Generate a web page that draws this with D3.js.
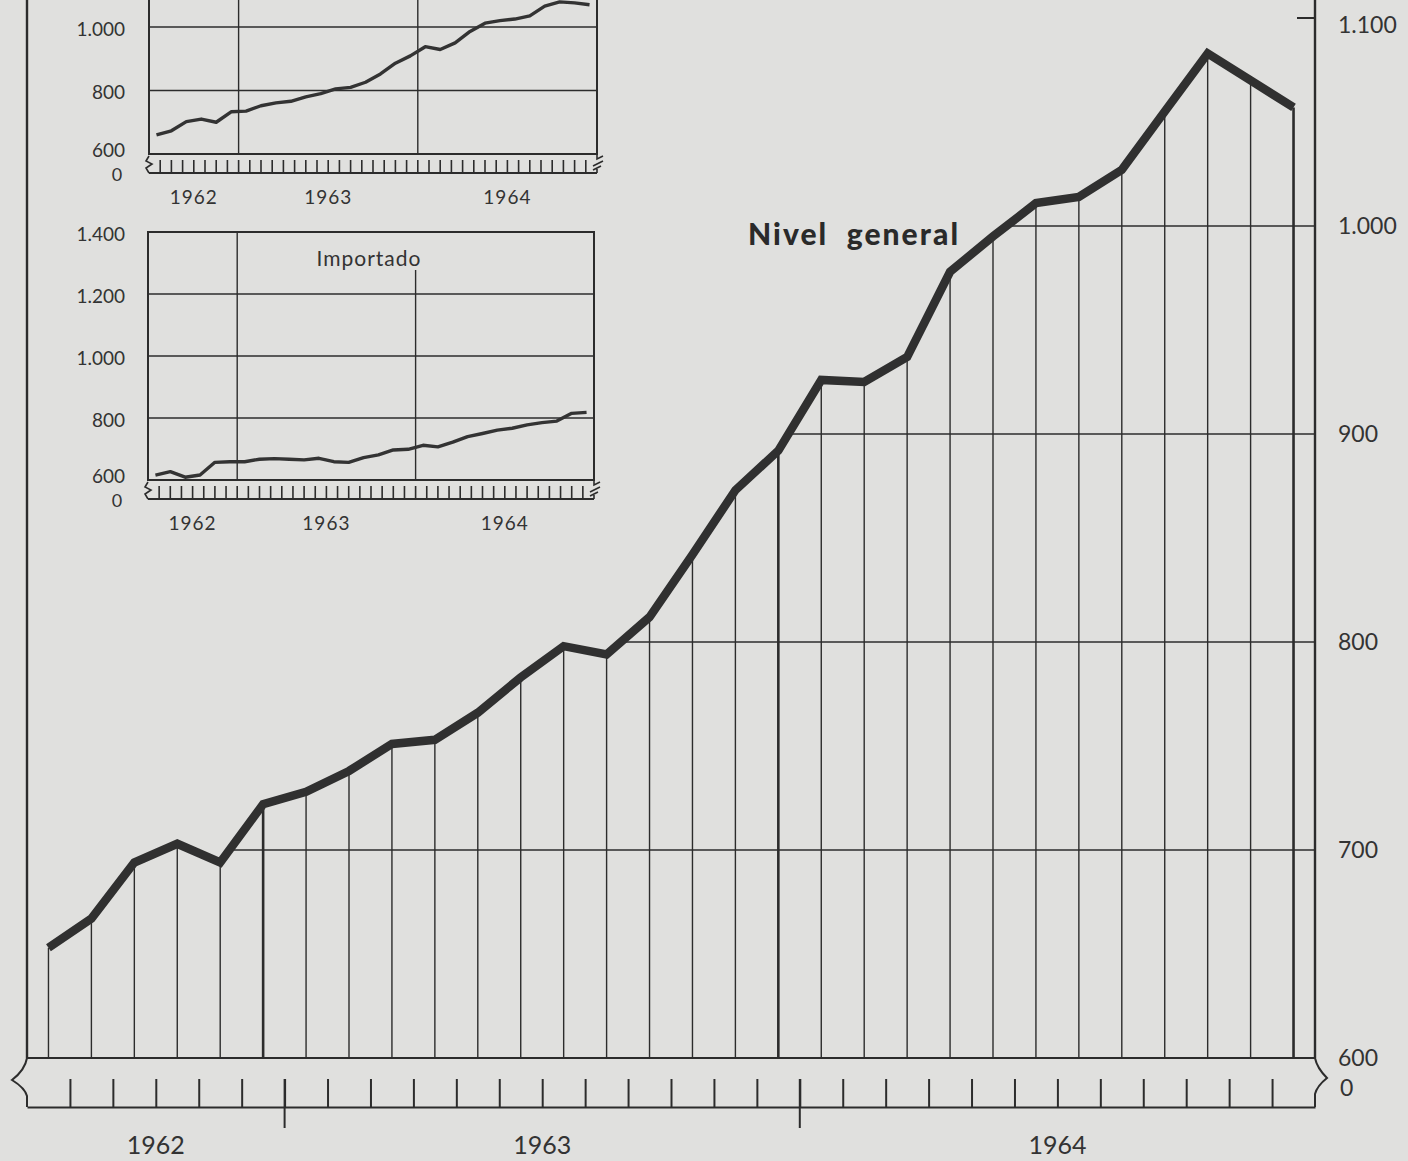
<!DOCTYPE html>
<html>
<head>
<meta charset="utf-8">
<script src="https://cdn.jsdelivr.net/npm/d3@7"></script>
<style>
  body { margin: 0; background: #e0e0de; }
  svg { display: block; }
  text { font-family: Lato, "Open Sans", sans-serif; fill: #333; }
</style>
</head>
<body>
<svg width="1408" height="1161"></svg>
<script>
// months shown: July 1962 .. December 1964
const months = d3.timeMonths(new Date(1962, 6, 1), new Date(1965, 0, 1));
const years = ["1962", "1963", "1964"];

// main series "Nivel general"
const general = [653, 667, 694, 703, 694, 722, 728, 738, 751, 753, 766, 783,
                 798, 794, 812, 842, 873, 892, 926, 925, 937, 978, 995, 1011,
                 1014, 1027, 1055, 1083, 1070, 1057];
// top inset (title cut off in the picture)
const nacional = [660, 673, 702, 710, 700, 733, 735, 752, 761, 766, 780, 790,
                  805, 810, 826, 852, 886, 909, 938, 929, 950, 986, 1012, 1020,
                  1025, 1035, 1066, 1079, 1076, 1070];
// lower inset "Importado"
const importado = [616, 627, 609, 616, 657, 659, 659, 667, 669, 667, 665, 670,
                   659, 657, 672, 681, 697, 699, 712, 707, 722, 740, 750, 761,
                   767, 778, 785, 790, 815, 818];

const mainTicks = [700, 800, 900, 1000];
const mainLabels = [600, 700, 800, 900, 1000, 1100];
const inset1Grid = [800, 1000];
const inset1Labels = [600, 800, 1000];
const inset2Grid = [800, 1000, 1200];
const inset2Labels = [600, 800, 1000, 1200, 1400];

const es = d3.formatLocale({decimal: ",", thousands: ".", grouping: [3], currency: ["", ""]});
const fmt = es.format(",");
const ink = "#2c2c2c";

const svg = d3.select("svg");

// ---------- main chart ----------
const x = d3.scaleBand().domain(months).range([27, 1315]).padding(0);
const bw = x.bandwidth();
const cx = d => x(d) + bw / 2;
const y = d3.scaleLinear().domain([600, 1100]).range([1058, 18]);
const base = y(600);
const data = months.map((m, i) => ({m: m, v: general[i]}));

// horizontal grid lines, only under the curve (from last upward crossing to right axis)
mainTicks.forEach(t => {
  let k = -1;
  for (let i = 0; i < data.length - 1; i++) {
    if (data[i].v < t && data[i + 1].v >= t) k = i;
  }
  if (k < 0) return;
  const a = data[k], b = data[k + 1];
  const xs = cx(a.m) + (t - a.v) / (b.v - a.v) * (cx(b.m) - cx(a.m));
  svg.append("line")
    .attr("x1", xs).attr("x2", 1315)
    .attr("y1", y(t)).attr("y2", y(t))
    .attr("stroke", ink).attr("stroke-width", 1.4);
});

// drop lines
svg.selectAll(".drop")
  .data(data)
  .join("line")
  .attr("class", "drop")
  .attr("x1", d => cx(d.m)).attr("x2", d => cx(d.m))
  .attr("y1", d => y(d.v)).attr("y2", base)
  .attr("stroke", ink)
  .attr("stroke-width", d => d.m.getMonth() === 11 ? 2.6 : 1.4);

// frame: left, right axis, baseline
svg.append("line").attr("x1", 27).attr("x2", 27).attr("y1", 0).attr("y2", base)
  .attr("stroke", ink).attr("stroke-width", 2.4);
svg.append("line").attr("x1", 1315).attr("x2", 1315).attr("y1", 0).attr("y2", base)
  .attr("stroke", ink).attr("stroke-width", 2.4);
svg.append("line").attr("x1", 27).attr("x2", 1315).attr("y1", base).attr("y2", base)
  .attr("stroke", ink).attr("stroke-width", 2);

// 1.100 tick
svg.append("line").attr("x1", 1297).attr("x2", 1315).attr("y1", y(1100)).attr("y2", y(1100))
  .attr("stroke", ink).attr("stroke-width", 2);

// main line
svg.append("path")
  .datum(data)
  .attr("fill", "none")
  .attr("stroke", "#303030")
  .attr("stroke-width", 8.5)
  .attr("stroke-linejoin", "miter")
  .attr("d", d3.line().x(d => cx(d.m)).y(d => y(d.v)));

// right labels
svg.selectAll(".ylab")
  .data(mainLabels)
  .join("text")
  .attr("class", "ylab")
  .attr("x", 1338).attr("y", d => d === 1100 ? y(d) + 6 : y(d) - 1)
  .attr("dominant-baseline", "central")
  .attr("font-size", 23)
  .text(d => fmt(d));
svg.append("text").attr("x", 1340).attr("y", 1087)
  .attr("dominant-baseline", "central").attr("font-size", 23).text("0");

// bottom ruler
const ruler = 1107;
const xr = d3.scaleLinear().domain([0, months.length]).range([27, 1315]);
svg.append("g")
  .attr("transform", `translate(0,${ruler})`)
  .call(d3.axisTop(xr).tickValues(d3.range(1, months.length)).tickSize(28).tickSizeOuter(0).tickFormat(""))
  .call(g => g.select(".domain").attr("stroke", ink).attr("stroke-width", 2))
  .call(g => g.selectAll(".tick line").attr("stroke", ink).attr("stroke-width", 2));
// year boundaries
const yearStarts = months.filter((m, i) => i > 0 && m.getMonth() === 0);
svg.selectAll(".ybound")
  .data(yearStarts)
  .join("line")
  .attr("x1", d => x(d)).attr("x2", d => x(d))
  .attr("y1", ruler - 28).attr("y2", ruler + 21)
  .attr("stroke", ink).attr("stroke-width", 2);
// breaks
svg.append("path")
  .attr("d", `M27,${base} Q25,${base + 12} 12,${base + 22} Q25,${base + 30} 27,${base + 38} L27,${ruler}`)
  .attr("fill", "none").attr("stroke", ink).attr("stroke-width", 2);
svg.append("path")
  .attr("d", `M1315,${base} Q1317,${base + 10} 1327,${base + 20} Q1317,${base + 28} 1315,${base + 36} L1315,${ruler}`)
  .attr("fill", "none").attr("stroke", ink).attr("stroke-width", 2);

// year labels
const yearSpan = years.map(yr => {
  const ms = months.filter(m => String(m.getFullYear()) === yr);
  return {yr: yr, a: x(ms[0]), b: x(ms[ms.length - 1]) + bw};
});
svg.selectAll(".yr")
  .data(yearSpan)
  .join("text")
  .attr("class", "yr")
  .attr("x", d => (d.a + d.b) / 2).attr("y", 1144)
  .attr("text-anchor", "middle").attr("dominant-baseline", "central")
  .attr("font-size", 25)
  .text(d => d.yr);

svg.append("text")
  .attr("x", 748).attr("y", 245)
  .attr("font-size", 30).attr("font-weight", 900)
  .attr("textLength", 210).attr("lengthAdjust", "spacing")
  .style("white-space", "pre")
  .style("fill", "#2a2a2a")
  .text("Nivel  general");

// ---------- insets ----------
function inset(cfg) {
  const g = svg.append("g");
  const xi = d3.scaleBand().domain(months).range([cfg.left, cfg.right]);
  const yi = d3.scaleLinear().domain([600, cfg.topVal]).range([cfg.bottom, cfg.top]);
  const frameTop = cfg.cut ? 0 : cfg.top;

  // horizontal grid
  g.selectAll(".hg").data(cfg.grid).join("line")
    .attr("x1", cfg.left).attr("x2", cfg.right)
    .attr("y1", d => yi(d)).attr("y2", d => yi(d))
    .attr("stroke", ink).attr("stroke-width", 1.4);
  // vertical year grid
  g.selectAll(".vg").data(yearStarts).join("line")
    .attr("x1", d => xi(d)).attr("x2", d => xi(d))
    .attr("y1", (d, i) => i === 1 && cfg.title ? cfg.top + 38 : frameTop)
    .attr("y2", cfg.bottom)
    .attr("stroke", ink).attr("stroke-width", 1.4);
  // frame
  g.append("path")
    .attr("d", cfg.cut
      ? `M${cfg.left},0 V${cfg.bottom} H${cfg.right} V0`
      : `M${cfg.left},${cfg.top} V${cfg.bottom} H${cfg.right} V${cfg.top} Z`)
    .attr("fill", "none").attr("stroke", ink).attr("stroke-width", 2);

  // ruler strip
  const sb = cfg.bottom + 19;
  const xs = d3.scaleLinear().domain([0, 40]).range([cfg.left, cfg.right]);
  g.append("line").attr("x1", cfg.left).attr("x2", cfg.right).attr("y1", sb).attr("y2", sb)
    .attr("stroke", ink).attr("stroke-width", 2);
  g.selectAll(".rt").data(d3.range(1, 40)).join("line")
    .attr("x1", d => xs(d)).attr("x2", d => xs(d))
    .attr("y1", sb).attr("y2", sb - 13)
    .attr("stroke", ink).attr("stroke-width", 1.6);
  g.append("path")
    .attr("d", `M${cfg.left},${cfg.bottom + 2} l-3,5 l6,3 l-6,4 l3,5`)
    .attr("fill", "none").attr("stroke", ink).attr("stroke-width", 1.6);
  g.append("path")
    .attr("d", `M${cfg.right},${cfg.bottom} l0,5 l6,-3 M${cfg.right - 4},${cfg.bottom + 12} l10,-5 M${cfg.right - 4},${cfg.bottom + 16} l8,-4 M${cfg.right},${sb} l0,-4`)
    .attr("fill", "none").attr("stroke", ink).attr("stroke-width", 1.6);

  // line
  g.append("path")
    .datum(cfg.values)
    .attr("fill", "none").attr("stroke", "#333").attr("stroke-width", 3.4)
    .attr("stroke-linejoin", "round")
    .attr("d", d3.line().x((d, i) => xi(months[i]) + xi.bandwidth() / 2).y(d => yi(d)));

  // y labels
  g.selectAll(".yl").data(cfg.labels).join("text")
    .attr("x", 125).attr("y", d => d === 600 ? yi(d) - 5 : yi(d) + 1)
    .attr("text-anchor", "end").attr("dominant-baseline", "central")
    .attr("font-size", 19)
    .text(d => fmt(d));
  g.append("text").attr("x", 117).attr("y", sb + 1)
    .attr("text-anchor", "middle").attr("dominant-baseline", "central")
    .attr("font-size", 18).text("0");

  // year labels
  const spans = years.map(yr => {
    const ms = months.filter(m => String(m.getFullYear()) === yr);
    return {yr: yr, a: xi(ms[0]), b: xi(ms[ms.length - 1]) + xi.bandwidth()};
  });
  g.selectAll(".iy").data(spans).join("text")
    .attr("x", d => (d.a + d.b) / 2).attr("y", sb + 23)
    .attr("text-anchor", "middle").attr("dominant-baseline", "central")
    .attr("font-size", 19).attr("letter-spacing", 1)
    .text(d => d.yr);

  if (cfg.title) {
    g.append("text")
      .attr("x", (cfg.left + cfg.right) / 2 - 2).attr("y", cfg.top + 25)
      .attr("text-anchor", "middle").attr("dominant-baseline", "central")
      .attr("font-size", 21).attr("letter-spacing", 1)
      .text(cfg.title);
  }
}

inset({left: 149, right: 597, top: 27, bottom: 154, topVal: 1000, cut: true,
       grid: inset1Grid, labels: inset1Labels, values: nacional});
inset({left: 148, right: 594, top: 232, bottom: 480, topVal: 1400, cut: false,
       grid: inset2Grid, labels: inset2Labels, values: importado, title: "Importado"});
</script>
</body>
</html>
